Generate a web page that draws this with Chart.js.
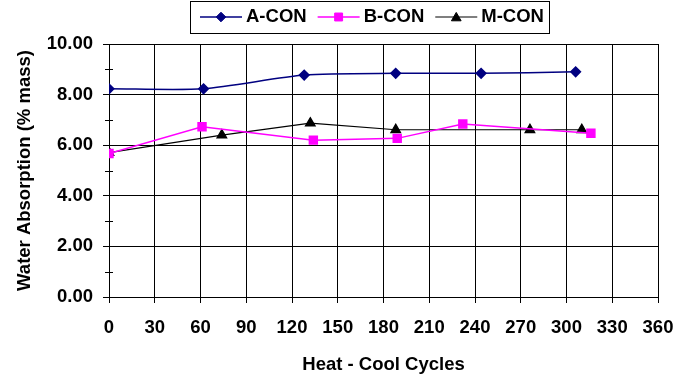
<!DOCTYPE html>
<html>
<head>
<meta charset="utf-8">
<script src="https://cdn.jsdelivr.net/npm/chart.js@4.4.1/dist/chart.umd.min.js"></script>
<style>
  html, body { margin: 0; padding: 0; background: #fff; }
  canvas { display: block; }
</style>
</head>
<body>
<canvas id="chart" width="691" height="379"></canvas>
<script>
// values
const A_CYCLES = [0, 62, 128, 188, 244, 306];
const A_VALUES = [8.23, 8.23, 8.77, 8.84, 8.84, 8.90];

const B_CYCLES = [0, 61, 134, 189, 232, 316];
const B_VALUES = [5.67, 6.73, 6.20, 6.27, 6.84, 6.47];

const M_CYCLES = [0, 74, 132, 188, 276, 310];
const M_VALUES = [5.71, 6.40, 6.87, 6.61, 6.61, 6.61];

const SERIES_NAMES = ["A-CON", "B-CON", "M-CON"];
const MINOR_Y = [1, 3, 5, 7, 9];

const FONT = { family: "'Liberation Sans', Arial, sans-serif", size: 18.5, weight: "bold" };

function toPoints(xs, ys) {
  return xs.map((x, i) => ({ x: x, y: ys[i] }));
}

// short marks at the odd values on the y axis
const minorTicks = {
  id: "minorTicks",
  afterDraw(chart) {
    const c = chart.ctx;
    const y = chart.scales.y;
    const left = chart.chartArea.left;
    c.save();
    c.strokeStyle = "#000";
    c.lineWidth = 1;
    MINOR_Y.forEach(v => {
      const py = Math.round(y.getPixelForValue(v)) + 0.5;
      c.beginPath();
      c.moveTo(left - 4, py);
      c.lineTo(left + 4, py);
      c.stroke();
    });
    c.restore();
  }
};

// boxed legend with line + marker samples
const boxLegend = {
  id: "boxLegend",
  afterDraw(chart) {
    const c = chart.ctx;
    const box = { x: 190.5, y: 1.5, w: 359, h: 32 };
    const cy = 17;
    c.save();
    c.strokeStyle = "#000";
    c.lineWidth = 1;
    c.strokeRect(box.x, box.y, box.w, box.h);
    c.font = `${FONT.weight} ${FONT.size}px ${FONT.family}`;
    c.textBaseline = "middle";
    c.textAlign = "left";
    let x = 200;
    chart.data.datasets.forEach(ds => {
      c.strokeStyle = ds.borderColor;
      c.lineWidth = ds.borderWidth;
      c.beginPath();
      c.moveTo(x, cy);
      c.lineTo(x + 42, cy);
      c.stroke();
      c.fillStyle = ds.backgroundColor;
      c.strokeStyle = ds.borderColor;
      c.lineWidth = 1;
      Chart.helpers.drawPoint(c, {
        pointStyle: ds.pointStyle,
        radius: ds.pointRadius,
        rotation: 0,
        borderWidth: 1
      }, x + 21, cy + (ds.pointStyle === "triangle" ? 1 : 0));
      c.fillStyle = "#000";
      c.fillText(ds.label, x + 46, cy);
      x += 46 + c.measureText(ds.label).width + 11;
    });
    c.restore();
  }
};

new Chart(document.getElementById("chart"), {
  type: "line",
  data: {
    datasets: [
      {
        label: SERIES_NAMES[0],
        data: toPoints(A_CYCLES, A_VALUES),
        borderColor: "#000080",
        backgroundColor: "#000080",
        borderWidth: 1.5,
        pointStyle: "rectRot",
        pointRadius: 4.8,
        tension: 0.25
      },
      {
        label: SERIES_NAMES[1],
        data: toPoints(B_CYCLES, B_VALUES),
        borderColor: "#ff00ff",
        backgroundColor: "#ff00ff",
        borderWidth: 1.5,
        pointStyle: "rect",
        pointRadius: 5.6,
        tension: 0
      },
      {
        label: SERIES_NAMES[2],
        data: toPoints(M_CYCLES, M_VALUES),
        borderColor: "#000000",
        backgroundColor: "#000000",
        borderWidth: 1.2,
        pointStyle: "triangle",
        pointRadius: 5.6,
        tension: 0
      }
    ]
  },
  options: {
    responsive: false,
    animation: false,
    layout: { padding: { top: 44, right: 33, left: 0, bottom: 0 } },
    plugins: {
      legend: { display: false },
      tooltip: { enabled: false }
    },
    scales: {
      x: {
        type: "linear",
        min: 0,
        max: 360,
        afterFit: s => { s.height = 82; },
        ticks: { stepSize: 30, color: "#000", font: FONT, padding: 14, maxRotation: 0 },
        grid: { color: "#000", lineWidth: 1, tickLength: 6, tickColor: "#000" },
        border: { color: "#000", width: 1 },
        title: {
          display: true,
          text: "Heat - Cool Cycles",
          color: "#000",
          font: FONT,
          padding: { top: 10, bottom: 3 }
        }
      },
      y: {
        min: 0,
        max: 10,
        afterFit: s => { s.width = 109; },
        ticks: {
          stepSize: 2,
          color: "#000",
          font: FONT,
          padding: 10,
          callback: v => v.toFixed(2)
        },
        grid: { color: "#000", lineWidth: 1, tickLength: 6, tickColor: "#000" },
        border: { color: "#000", width: 1 },
        title: {
          display: true,
          text: "Water Absorption (% mass)",
          color: "#000",
          font: FONT,
          padding: { top: 14, bottom: 4 }
        }
      }
    }
  },
  plugins: [minorTicks, boxLegend]
});
</script>
</body>
</html>
